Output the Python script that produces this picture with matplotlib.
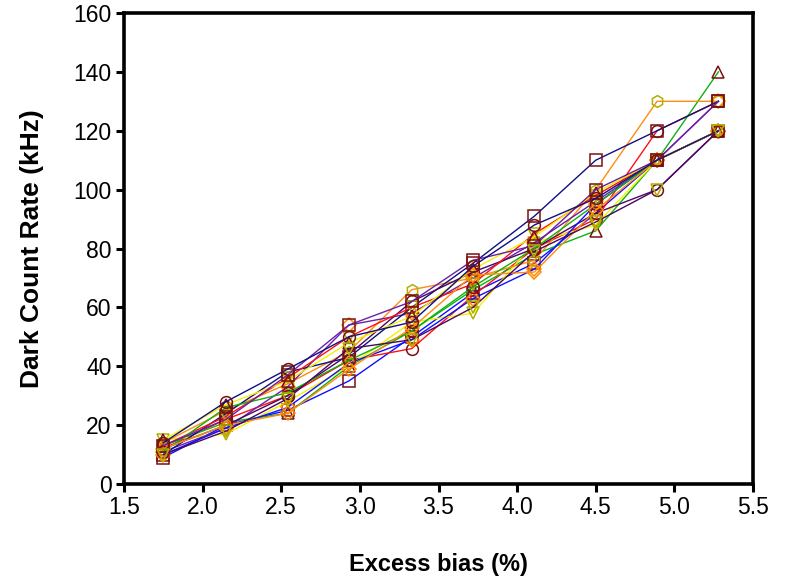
import matplotlib
matplotlib.use("Agg")
import matplotlib.pyplot as plt

plt.rcParams['font.family'] = ['Liberation Sans', 'DejaVu Sans']

# Excess bias values (%) shared by every device
bias = [1.75, 2.15, 2.54, 2.93, 3.33, 3.72, 4.11, 4.50, 4.89, 5.28]

# Dark count rate (kHz) per device
dcr_01 = [9, 20, 25, 35, 50, 65, 75, 92, 110, 120]
dcr_02 = [12, 22, 30, 42, 46, 64, 80, 90, 120, 130]
dcr_03 = [13, 21, 24, 40, 52, 66, 78, 86, 110, 140]
dcr_04 = [15, 17, 28, 40, 55, 58, 82, 88, 110, 120]
dcr_05 = [14, 25, 34, 45, 66, 70, 76, 100, 130, 130]
dcr_06 = [11, 19, 33, 54, 58, 70, 82, 96, 110, 130]
dcr_07 = [10, 24, 38, 43, 60, 75, 91, 110, 120, 130]
dcr_08 = [12, 20, 30, 44, 62, 72, 80, 92, 100, 120]
dcr_09 = [10, 19, 26, 41, 49, 63, 73, 95, 110, 120]
dcr_10 = [13, 23, 36, 50, 60, 68, 85, 98, 110, 120]
dcr_11 = [11, 26, 31, 42, 52, 67, 80, 95, 110, 120]
dcr_12 = [15, 27, 35, 48, 57, 73, 84, 99, 110, 120]
dcr_13 = [12, 20, 24, 39, 53, 71, 72, 93, 110, 120]
dcr_14 = [13, 22, 37, 54, 62, 76, 81, 100, 110, 130]
dcr_15 = [14, 28, 39, 50, 55, 74, 88, 97, 110, 120]
dcr_16 = [10, 18, 29, 46, 49, 60, 79, 89, 100, 120]

series = [dcr_01, dcr_02, dcr_03, dcr_04, dcr_05, dcr_06, dcr_07, dcr_08,
          dcr_09, dcr_10, dcr_11, dcr_12, dcr_13, dcr_14, dcr_15, dcr_16]

maroon, olive, orange = '#7a1010', '#b0b000', '#ff8a00'
line_colors = ['#1010ff', '#ff1010', '#10b010', '#f5f000', '#ff8c10',
               '#6a20a8', '#101080', '#4a0860']
marker_styles = [('s', maroon), ('o', maroon), ('^', maroon), ('v', olive),
                 ('h', olive), ('D', orange), ('s', maroon), ('o', maroon),
                 ('D', orange), ('v', olive), ('o', maroon), ('^', maroon),
                 ('D', orange), ('s', maroon), ('o', maroon), ('v', olive)]

fig = plt.figure(figsize=(7.89, 5.76), dpi=100)
ax = fig.add_axes([124 / 789, 1 - 484 / 576, (753 - 124) / 789, (484 - 13) / 576])

for i, vals in enumerate(series):
    m, mc = marker_styles[i]
    ax.plot(bias, vals, color=line_colors[i % len(line_colors)], lw=1.0,
            marker=m, markersize=8.5 if m != 'D' else 7.5,
            markerfacecolor='none', markeredgecolor=mc, markeredgewidth=1.1,
            zorder=2)

ax.set_xlim(1.5, 5.5)
ax.set_ylim(0, 160)
ax.set_xticks([1.5, 2.0, 2.5, 3.0, 3.5, 4.0, 4.5, 5.0, 5.5])
ax.set_xticklabels(['1.5', '2.0', '2.5', '3.0', '3.5', '4.0', '4.5', '5.0', '5.5'])
ax.set_yticks(range(0, 161, 20))

for side in ['left', 'right', 'top', 'bottom']:
    ax.spines[side].set_linewidth(2.6)
    ax.spines[side].set_color('black')

ax.tick_params(axis='both', direction='out', length=6, width=2.2,
               labelsize=16.5, pad=3, colors='black')

ax.set_xlabel('Excess bias (%)', fontsize=17, fontweight='bold', labelpad=24)
ax.set_ylabel('Dark Count Rate (kHz)', fontsize=19, fontweight='bold', labelpad=21)

fig.savefig('out.png', dpi=100)
